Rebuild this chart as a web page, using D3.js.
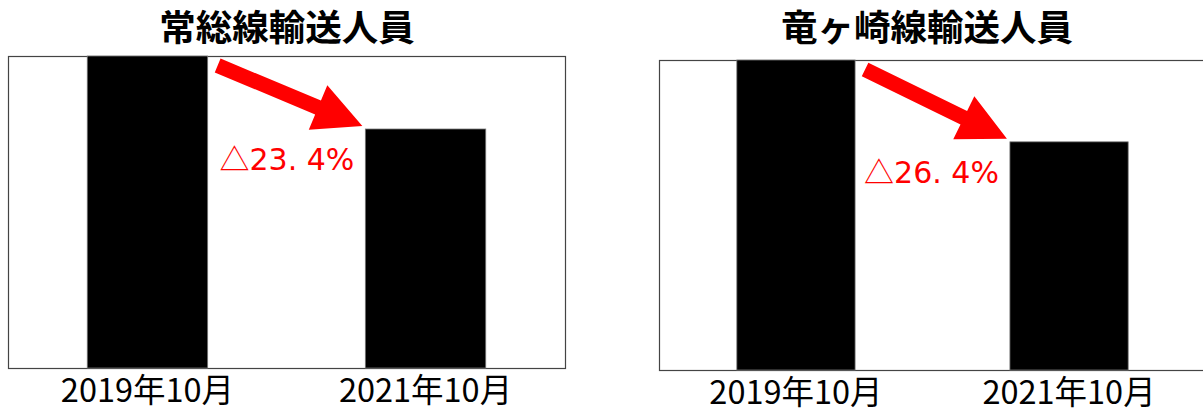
<!DOCTYPE html>
<html>
<head>
<meta charset="utf-8">
<script src="https://cdn.jsdelivr.net/npm/d3@7"></script>
<style>
  html, body { margin: 0; padding: 0; background: #fff; }
  svg { display: block; }
</style>
</head>
<body>
<svg id="chart"></svg>
<script>
// data
const categories = ["2019年10月", "2021年10月"];
const titles = ["常総線輸送人員", "竜ヶ崎線輸送人員"];
const josoValues = [100, 76.6];        // index, 2019 = 100
const ryugasakiValues = [100, 73.6];
const changeLabels = ["△23. 4%", "△26. 4%"];

const W = 1203, H = 412;
const svg = d3.select("#chart").attr("width", W).attr("height", H);

// layout of the two panels
const panels = [
  { values: josoValues, title: titles[0], change: changeLabels[0], x0: 8, x1: 565, y0: 56, y1: 368, titleX: 287 },
  { values: ryugasakiValues, title: titles[1], change: changeLabels[1], x0: 659, x1: 1206, y0: 60, y1: 370, titleX: 927 }
];

const font = "'Noto Sans CJK JP', 'Noto Sans', sans-serif";

panels.forEach(p => {
  const g = svg.append("g");

  const x = d3.scaleBand()
    .domain(categories)
    .range([p.x0, p.x1])
    .paddingInner(0.567)
    .paddingOuter(0.285);
  const y = d3.scaleLinear()
    .domain([0, 100])
    .range([p.y1, p.y0]);

  // title
  g.append("text")
    .attr("x", p.titleX)
    .attr("y", 40.5)
    .attr("text-anchor", "middle")
    .style("font-family", font)
    .style("font-weight", "bold")
    .style("font-size", "36.5px")
    .text(p.title);

  // frame
  g.append("rect")
    .attr("x", p.x0 + 0.5)
    .attr("y", p.y0 + 0.5)
    .attr("width", p.x1 - p.x0)
    .attr("height", p.y1 - p.y0)
    .attr("fill", "#fff")
    .attr("stroke", "#444")
    .attr("stroke-width", 1.2);

  // bars
  g.selectAll("rect.bar")
    .data(p.values)
    .join("rect")
    .attr("class", "bar")
    .attr("x", (d, i) => x(categories[i]))
    .attr("y", d => y(d))
    .attr("width", x.bandwidth())
    .attr("height", d => p.y1 - y(d))
    .attr("fill", "#000")
    .attr("stroke", "#777")
    .attr("stroke-width", 0.8);

  // x axis
  const ax = g.append("g")
    .attr("transform", `translate(0,${p.y1})`)
    .call(d3.axisBottom(x).tickSize(0).tickPadding(11));
  ax.select(".domain").remove();
  ax.selectAll("text")
    .style("font-family", font)
    .style("font-size", "32.5px")
    .attr("fill", "#000");

  // arrow from first bar to second bar
  const tail = [x(categories[0]) + x.bandwidth() + 10, p.y0 + 9.5];
  const tip = [x(categories[1]) - 3, y(p.values[1]) - 3];
  const dx = tip[0] - tail[0], dy = tip[1] - tail[1];
  const len = Math.hypot(dx, dy);
  const u = [dx / len, dy / len], n = [-u[1], u[0]];
  const sw = 7.5, hw = 24, hl = 48;
  const hb = [tip[0] - u[0] * hl, tip[1] - u[1] * hl];
  const pt = (b, k) => [b[0] + n[0] * k, b[1] + n[1] * k];
  const pts = [pt(tail, sw), pt(hb, sw), pt(hb, hw), tip, pt(hb, -hw), pt(hb, -sw), pt(tail, -sw)];
  g.append("path")
    .attr("d", d3.line()(pts) + "Z")
    .attr("fill", "#ff0000");

  // change label: triangle in CJK font, figures in DejaVu
  const t = g.append("text")
    .attr("x", x(categories[1]) - 11)
    .attr("y", y(p.values[1]) + 41)
    .attr("text-anchor", "end")
    .style("font-size", "30px")
    .attr("fill", "#ff0000");
  t.append("tspan")
    .style("font-family", font)
    .text(p.change.slice(0, 1));
  t.append("tspan")
    .style("font-family", "'DejaVu Sans', sans-serif")
    .text(p.change.slice(1));
});
</script>
</body>
</html>
